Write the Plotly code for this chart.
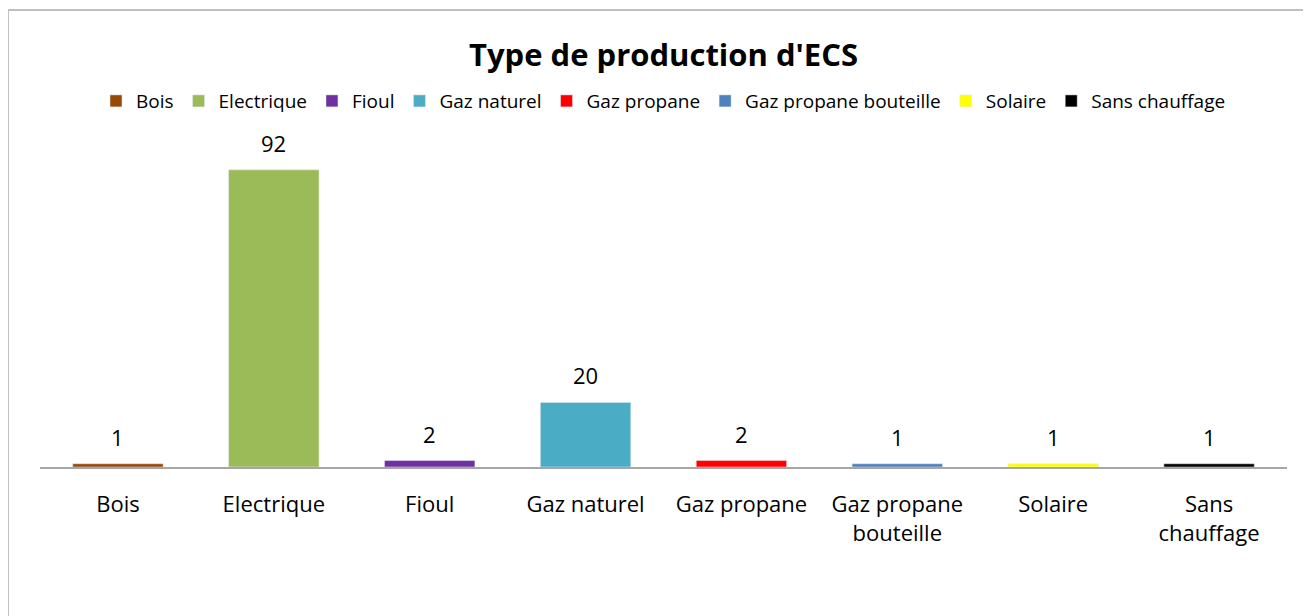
import plotly.graph_objects as go

# Données du graphique
categories = ["Bois", "Electrique", "Fioul", "Gaz naturel", "Gaz propane",
              "Gaz propane bouteille", "Solaire", "Sans chauffage"]
tick_labels = ["Bois", "Electrique", "Fioul", "Gaz naturel", "Gaz propane",
               "Gaz propane<br>bouteille", "Solaire", "Sans<br>chauffage"]
values = [1, 92, 2, 20, 2, 1, 1, 1]
colors = ["#984807", "#9BBB59", "#7030A0", "#4BACC6", "#FF0000",
          "#4F81BD", "#FFFF00", "#000000"]

font = "'Open Sans', sans-serif"

fig = go.Figure()
for cat, val, col in zip(categories, values, colors):
    fig.add_trace(go.Bar(x=[cat], y=[val], name=cat, marker_color=col))
    # étiquette de valeur au-dessus de la barre
    fig.add_annotation(x=cat, y=val, text=str(val), showarrow=False,
                       yanchor="middle", yshift=27,
                       font=dict(size=22, color="#000000", family=font))

fig.update_layout(
    width=1311, height=616,
    barmode="overlay",
    bargap=0.42,
    paper_bgcolor="white", plot_bgcolor="white",
    margin=dict(l=32, r=32, t=136, b=157),
    title=dict(text="<b>Type de production d'ECS</b>", x=0.5, xref="paper",
               y=0.924, yanchor="middle",
               font=dict(size=31, color="#000000", family=font)),
    legend=dict(orientation="h", x=0.5, xanchor="center", y=1.133, yanchor="middle",
                font=dict(size=19, color="#000000", family=font),
                itemwidth=30, traceorder="normal"),
    font=dict(family=font),
    xaxis=dict(
        tickmode="array", tickvals=categories, ticktext=tick_labels,
        showline=True, linecolor="#A6A6A6", linewidth=2,
        ticks="", showgrid=False, ticklabelstandoff=17,
        tickfont=dict(size=22, color="#000000", family=font),
    ),
    yaxis=dict(range=[0, 100], visible=False, showgrid=False),
    shapes=[dict(type="rect", xref="paper", yref="paper",
                 x0=-0.0257, x1=1.1, y0=-0.6, y1=1.415,
                 line=dict(color="#BFBFBF", width=2))],
)

fig.write_html("out.html")
